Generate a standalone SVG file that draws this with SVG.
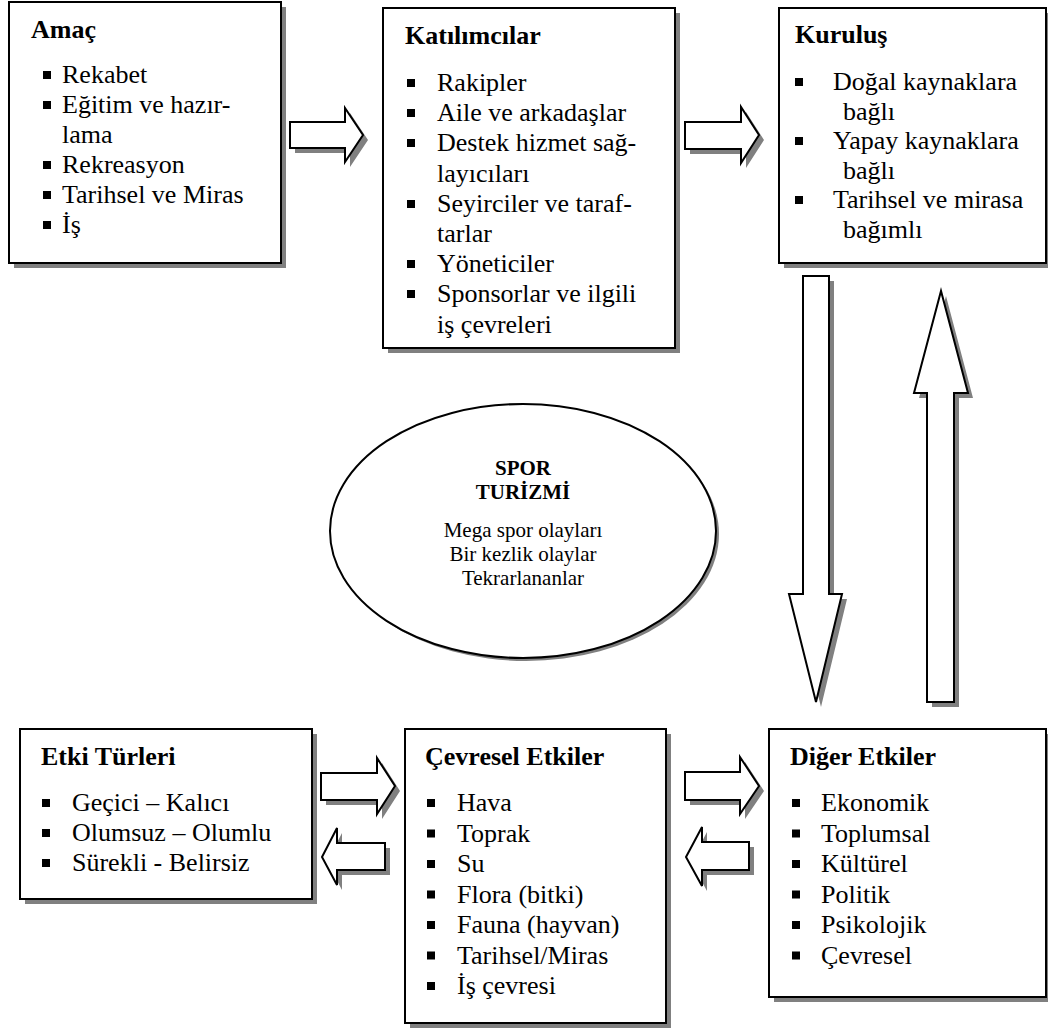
<svg xmlns="http://www.w3.org/2000/svg" width="1048" height="1030" viewBox="0 0 1048 1030" font-family="Liberation Serif, Times New Roman, Nimbus Roman, FreeSerif, DejaVu Serif, Noto Serif, serif">
<style>
  .box { fill: #ffffff; stroke: #000000; stroke-width: 2; }
  .shadow { fill: #808080; stroke: none; }
  .arrow { fill: #ffffff; stroke: #000000; stroke-width: 2; stroke-linejoin: miter; }
  .title { font-weight: bold; font-size: 26px; fill: #000; }
  .item { font-size: 26px; fill: #000; }
  .etitle { font-weight: bold; font-size: 21px; text-anchor: middle; fill: #000; }
  .etext { font-size: 21px; text-anchor: middle; fill: #000; }
  .bullet { fill: #000; }
</style>
<defs>
  <rect id="b" class="bullet" x="0" y="-12" width="8" height="8"/>
</defs>

<g id="connectors">
  <g id="arrow-amac-katilimcilar">
    <path class="shadow" transform="translate(5,5)" d="M290,122 H345 V108 L363,135 L345,162 V148 H290 Z"/>
    <path class="arrow" d="M290,122 H345 V108 L363,135 L345,162 V148 H290 Z"/>
  </g>
  <g id="arrow-katilimcilar-kurulus">
    <path class="shadow" transform="translate(5,5)" d="M685,122 H741 V107 L759,135 L741,163 V149 H685 Z"/>
    <path class="arrow" d="M685,122 H741 V107 L759,135 L741,163 V149 H685 Z"/>
  </g>
  <g id="arrow-kurulus-diger">
    <path class="shadow" transform="translate(5,5)" d="M803,276 H829 V594 H842 L816,702 L789,594 H803 Z"/>
    <path class="arrow" d="M803,276 H829 V594 H842 L816,702 L789,594 H803 Z"/>
  </g>
  <g id="arrow-diger-kurulus">
    <path class="shadow" transform="translate(5,5)" d="M927,702 V393 H914 L941,291 L968,393 H954 V702 Z"/>
    <path class="arrow" d="M927,702 V393 H914 L941,291 L968,393 H954 V702 Z"/>
  </g>
  <g id="arrow-etki-cevresel">
    <path class="shadow" transform="translate(5,5)" d="M321,773 H377 V758 L395,786 L377,814 V800 H321 Z"/>
    <path class="arrow" d="M321,773 H377 V758 L395,786 L377,814 V800 H321 Z"/>
  </g>
  <g id="arrow-cevresel-etki">
    <path class="shadow" transform="translate(5,5)" d="M385,843 H337 V828 L322,857 L337,885 V870 H385 Z"/>
    <path class="arrow" d="M385,843 H337 V828 L322,857 L337,885 V870 H385 Z"/>
  </g>
  <g id="arrow-cevresel-diger">
    <path class="shadow" transform="translate(5,5)" d="M685,772 H740 V757 L759,786 L740,814 V800 H685 Z"/>
    <path class="arrow" d="M685,772 H740 V757 L759,786 L740,814 V800 H685 Z"/>
  </g>
  <g id="arrow-diger-cevresel">
    <path class="shadow" transform="translate(5,5)" d="M749,842 H702 V827 L686,857 L702,886 V870 H749 Z"/>
    <path class="arrow" d="M749,842 H702 V827 L686,857 L702,886 V870 H749 Z"/>
  </g>
</g>

<g id="node-amac">
  <rect class="shadow" x="14" y="7" width="272" height="261"/>
  <rect class="box" x="9" y="2" width="272" height="261"/>
  <text class="title" x="31" y="38">Amaç</text>
  <use href="#b" x="43" y="83"/><text class="item" x="62" y="83">Rekabet</text>
  <use href="#b" x="43" y="113"/><text class="item" x="62" y="113">Eğitim ve hazır-</text>
  <text class="item" x="62" y="143">lama</text>
  <use href="#b" x="43" y="173"/><text class="item" x="62" y="173">Rekreasyon</text>
  <use href="#b" x="43" y="203"/><text class="item" x="62" y="203">Tarihsel ve Miras</text>
  <use href="#b" x="43" y="233"/><text class="item" x="62" y="233">İş</text>
</g>

<g id="node-katilimcilar">
  <rect class="shadow" x="388" y="13" width="292" height="340"/>
  <rect class="box" x="383" y="8" width="292" height="340"/>
  <text class="title" x="405" y="44">Katılımcılar</text>
  <use href="#b" x="407" y="91"/><text class="item" x="437" y="91">Rakipler</text>
  <use href="#b" x="407" y="121"/><text class="item" x="437" y="121">Aile ve arkadaşlar</text>
  <use href="#b" x="407" y="151"/><text class="item" x="437" y="151">Destek hizmet sağ-</text>
  <text class="item" x="437" y="182">layıcıları</text>
  <use href="#b" x="407" y="212"/><text class="item" x="437" y="212">Seyirciler ve taraf-</text>
  <text class="item" x="437" y="242">tarlar</text>
  <use href="#b" x="407" y="272"/><text class="item" x="437" y="272">Yöneticiler</text>
  <use href="#b" x="407" y="302"/><text class="item" x="437" y="302">Sponsorlar ve ilgili</text>
  <text class="item" x="437" y="333">iş çevreleri</text>
</g>

<g id="node-kurulus">
  <rect class="shadow" x="784" y="13" width="267" height="255"/>
  <rect class="box" x="779" y="8" width="267" height="255"/>
  <text class="title" x="795" y="43">Kuruluş</text>
  <use href="#b" x="795" y="90"/><text class="item" x="833" y="90">Doğal kaynaklara</text>
  <text class="item" x="843" y="119.5">bağlı</text>
  <use href="#b" x="795" y="149"/><text class="item" x="833" y="149">Yapay kaynaklara</text>
  <text class="item" x="843" y="178.5">bağlı</text>
  <use href="#b" x="795" y="208"/><text class="item" x="833" y="208">Tarihsel ve mirasa</text>
  <text class="item" x="843" y="237.5">bağımlı</text>
</g>

<g id="node-spor-turizmi">
  <ellipse class="shadow" cx="526" cy="534" rx="193" ry="127"/>
  <ellipse class="box" cx="523" cy="531" rx="193" ry="127"/>
  <text class="etitle" x="523" y="475">SPOR</text>
  <text class="etitle" x="523" y="499">TURİZMİ</text>
  <text class="etext" x="523" y="537">Mega spor olayları</text>
  <text class="etext" x="523" y="561">Bir kezlik olaylar</text>
  <text class="etext" x="523" y="585">Tekrarlananlar</text>
</g>

<g id="node-etki-turleri">
  <rect class="shadow" x="25" y="734" width="292" height="170"/>
  <rect class="box" x="20" y="729" width="292" height="170"/>
  <text class="title" x="41" y="765">Etki Türleri</text>
  <use href="#b" x="42" y="811"/><text class="item" x="72" y="811">Geçici – Kalıcı</text>
  <use href="#b" x="42" y="841"/><text class="item" x="72" y="841">Olumsuz – Olumlu</text>
  <use href="#b" x="42" y="871"/><text class="item" x="72" y="871">Sürekli - Belirsiz</text>
</g>

<g id="node-cevresel-etkiler">
  <rect class="shadow" x="410" y="734" width="261" height="294"/>
  <rect class="box" x="405" y="729" width="261" height="294"/>
  <text class="title" x="425" y="765">Çevresel Etkiler</text>
  <use href="#b" x="427" y="811"/><text class="item" x="457" y="811">Hava</text>
  <use href="#b" x="427" y="841.5"/><text class="item" x="457" y="841.5">Toprak</text>
  <use href="#b" x="427" y="872"/><text class="item" x="457" y="872">Su</text>
  <use href="#b" x="427" y="902.5"/><text class="item" x="457" y="902.5">Flora (bitki)</text>
  <use href="#b" x="427" y="933"/><text class="item" x="457" y="933">Fauna (hayvan)</text>
  <use href="#b" x="427" y="963.5"/><text class="item" x="457" y="963.5">Tarihsel/Miras</text>
  <use href="#b" x="427" y="994"/><text class="item" x="457" y="994">İş çevresi</text>
</g>

<g id="node-diger-etkiler">
  <rect class="shadow" x="774" y="734" width="277" height="268"/>
  <rect class="box" x="769" y="729" width="277" height="268"/>
  <text class="title" x="790" y="765">Diğer Etkiler</text>
  <use href="#b" x="792" y="811"/><text class="item" x="821" y="811">Ekonomik</text>
  <use href="#b" x="792" y="841.5"/><text class="item" x="821" y="841.5">Toplumsal</text>
  <use href="#b" x="792" y="872"/><text class="item" x="821" y="872">Kültürel</text>
  <use href="#b" x="792" y="902.5"/><text class="item" x="821" y="902.5">Politik</text>
  <use href="#b" x="792" y="933"/><text class="item" x="821" y="933">Psikolojik</text>
  <use href="#b" x="792" y="963.5"/><text class="item" x="821" y="963.5">Çevresel</text>
</g>
</svg>
